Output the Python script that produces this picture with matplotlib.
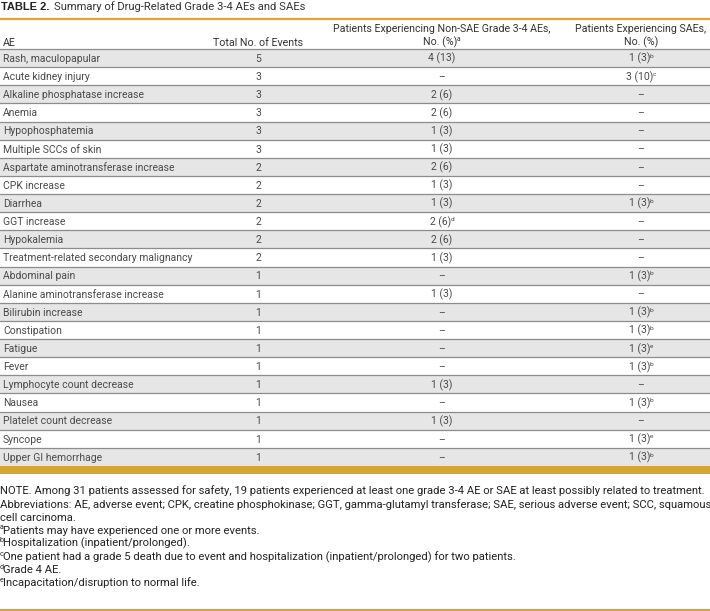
import matplotlib
matplotlib.use("Agg")
import matplotlib.pyplot as plt

plt.rcParams['font.family'] = ['Roboto', 'DejaVu Sans']

title_bold = "TABLE 2."
title_rest = "Summary of Drug-Related Grade 3-4 AEs and SAEs"
col_headers = ["AE", "Total No. of Events",
               "Patients Experiencing Non-SAE Grade 3-4 AEs,\nNo. (%)",
               "Patients Experiencing SAEs,\nNo. (%)"]
header_sup = ["", "", "a", ""]

ae = ["Rash, maculopapular", "Acute kidney injury", "Alkaline phosphatase increase",
      "Anemia", "Hypophosphatemia", "Multiple SCCs of skin",
      "Aspartate aminotransferase increase", "CPK increase", "Diarrhea",
      "GGT increase", "Hypokalemia", "Treatment-related secondary malignancy",
      "Abdominal pain", "Alanine aminotransferase increase", "Bilirubin increase",
      "Constipation", "Fatigue", "Fever", "Lymphocyte count decrease", "Nausea",
      "Platelet count decrease", "Syncope", "Upper GI hemorrhage"]
total = [5, 3, 3, 3, 3, 3, 2, 2, 2, 2, 2, 2, 1, 1, 1, 1, 1, 1, 1, 1, 1, 1, 1]
non_sae = ["4 (13)", "–", "2 (6)", "2 (6)", "1 (3)", "1 (3)", "2 (6)", "1 (3)",
           "1 (3)", "2 (6)", "2 (6)", "1 (3)", "–", "1 (3)", "–", "–", "–",
           "–", "1 (3)", "–", "1 (3)", "–", "–"]
non_sae_sup = ["", "", "", "", "", "", "", "", "", "d", "", "", "", "", "", "",
               "", "", "", "", "", "", ""]
sae = ["1 (3)", "3 (10)", "–", "–", "–", "–", "–", "–", "1 (3)", "–", "–", "–",
       "1 (3)", "–", "1 (3)", "1 (3)", "1 (3)", "1 (3)", "–", "1 (3)", "–",
       "1 (3)", "1 (3)"]
sae_sup = ["b", "c", "", "", "", "", "", "", "b", "", "", "", "b", "", "b", "b",
           "e", "b", "", "b", "", "e", "b"]

notes = ["NOTE. Among 31 patients assessed for safety, 19 patients experienced at least one grade 3-4 AE or SAE at least possibly related to treatment.",
         "Abbreviations: AE, adverse event; CPK, creatine phosphokinase; GGT, gamma-glutamyl transferase; SAE, serious adverse event; SCC, squamous",
         "cell carcinoma.",
         "Patients may have experienced one or more events.",
         "Hospitalization (inpatient/prolonged).",
         "One patient had a grade 5 death due to event and hospitalization (inpatient/prolonged) for two patients.",
         "Grade 4 AE.",
         "Incapacitation/disruption to normal life."]
notes_sup = ["", "", "", "a", "b", "c", "d", "e"]

W, H = 710, 611
gold = '#D9A436'
stripe = '#E6E6E6'
sep = '#8c8c8c'

fig = plt.figure(figsize=(W / 100, H / 100), dpi=100)
ax = fig.add_axes([0, 0, 1, 1])
ax.set_xlim(0, W)
ax.set_ylim(H, 0)
ax.axis('off')
r = fig.canvas.get_renderer()


def width(s, fs):
    if not s:
        return 0.0
    t = ax.text(0, 0, s, fontsize=fs)
    w = t.get_window_extent(r).width
    t.remove()
    return w


def put(x, y, main, sup, fs, ha='left', color='#333333', sup_first=False):
    # main text on a baseline, with an optional superscript letter after (or before) it
    sfs = fs * 0.62
    wm = width(main, fs)
    ws = width(sup, sfs) - 0.8 if sup else 0.0
    x0 = x - (wm + ws) / 2 if ha == 'center' else x
    ys = y - fs * 0.55
    if sup_first:
        ax.text(x0, ys, sup, fontsize=sfs, color=color, va='baseline')
        ax.text(x0 + ws, y, main, fontsize=fs, color=color, va='baseline')
        return
    ax.text(x0, y, main, fontsize=fs, color=color, va='baseline')
    if sup:
        ax.text(x0 + wm - 0.8, ys, sup, fontsize=sfs, color=color, va='baseline')


# title
t = ax.text(1, 10.5, title_bold, fontsize=8.0, fontweight='bold', color='#222222',
            va='baseline', family=['Liberation Sans', 'DejaVu Sans'])
bb = t.get_window_extent(r)
ax.text(bb.x1 + 5, 10.5, title_rest, fontsize=8.1, color='#333333', va='baseline')
ax.axhline(19, color=gold, lw=1.6)

# header
col_x = [3, 258, 442, 641]
hfs = 7.7
put(col_x[0], 45.5, col_headers[0], header_sup[0], hfs)
put(col_x[1], 45.5, col_headers[1], header_sup[1], hfs, ha='center')
for j in (2, 3):
    l1, l2 = col_headers[j].split('\n')
    put(col_x[j], 32.5, l1, "", hfs, ha='center')
    put(col_x[j], 45.5, l2, header_sup[j], hfs, ha='center')

# rows
top, rh = 49, 18.13
bfs, bcol = 7.5, '#4a4a4a'
for i, name in enumerate(ae):
    y0 = top + i * rh
    if i % 2 == 0:
        ax.axhspan(y0, y0 + rh, color=stripe, lw=0, zorder=0)
    ax.axhline(y0, color=sep, lw=0.9, zorder=1)
    yb = y0 + rh / 2 + 3.8
    put(col_x[0], yb, name, "", bfs, color=bcol)
    put(col_x[1], yb, str(total[i]), "", bfs, ha='center', color=bcol)
    put(col_x[2], yb, non_sae[i], non_sae_sup[i], bfs, ha='center', color=bcol)
    put(col_x[3], yb, sae[i], sae_sup[i], bfs, ha='center', color=bcol)

bottom = top + len(ae) * rh
ax.axhspan(bottom, bottom + 8.5, color=gold, lw=0)

# notes, font sized so the first line spans the page width
ny0, nstep = 494.5, 13.1
nfs = 8.0 * 707 / width(notes[0], 8.0)
for k, line in enumerate(notes):
    put(0, ny0 + k * nstep, line, notes_sup[k], nfs, color='#222222', sup_first=True)

ax.axhline(609.5, color=gold, lw=1.6)

fig.savefig('out.png', dpi=100)
